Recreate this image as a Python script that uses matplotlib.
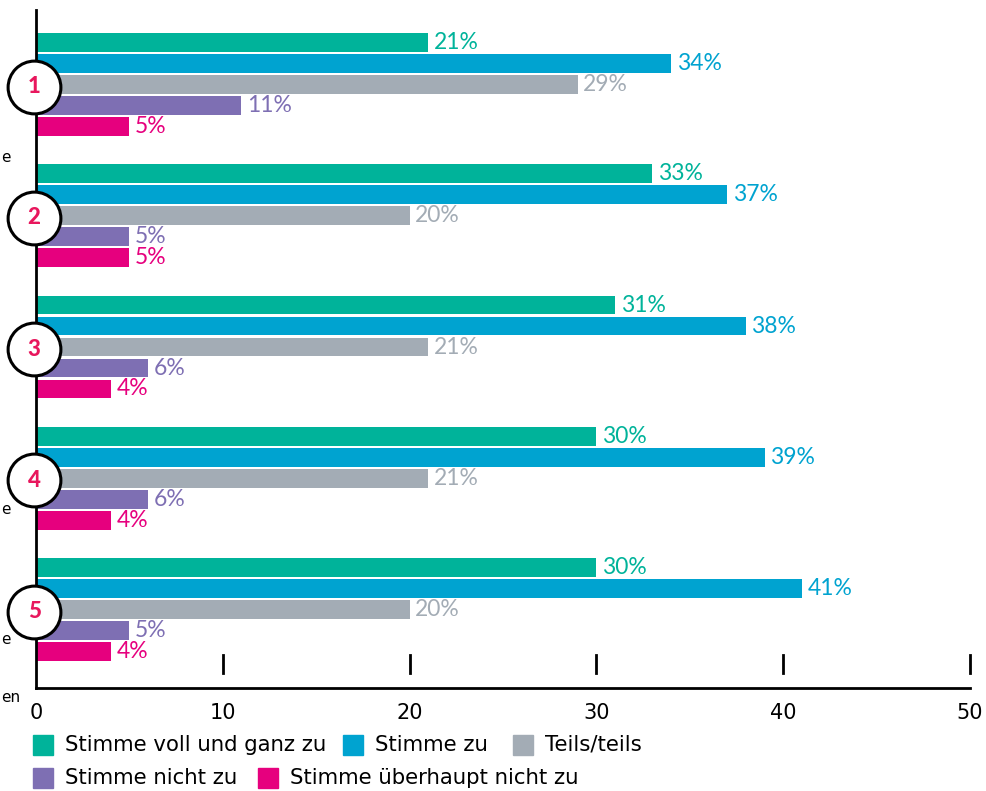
import numpy as np
import matplotlib.pyplot as plt
from matplotlib.patches import Rectangle

# Antwortkategorien und Farben
categories = ['Stimme voll und ganz zu', 'Stimme zu', 'Teils/teils',
              'Stimme nicht zu', 'Stimme überhaupt nicht zu']
colors = ['#00b39a', '#00a3d0', '#a3acb5', '#7e6fb3', '#e6007e']

# Werte je Aussage (in %)
group_labels = ['1', '2', '3', '4', '5']
values = [
    [21, 34, 29, 11, 5],
    [33, 37, 20, 5, 5],
    [31, 38, 21, 6, 4],
    [30, 39, 21, 6, 4],
    [30, 41, 20, 5, 4],
]
xticks = [0, 10, 20, 30, 40, 50]

# abgeschnittene Beschriftungen am linken Rand
side_texts = ['e', 'e', 'e', 'en']
side_ypix = [158, 509, 639, 697]

label_font = 'Lato'
plain_font = 'DejaVu Sans'

fig = plt.figure(figsize=(9.87, 7.91), dpi=100)
ax = fig.add_axes([36 / 987, 1 - 688 / 791, 934 / 987, 678 / 791])

group_step = 6.25
bar_h = 0.9
for g, vals in enumerate(values):
    for k, v in enumerate(vals):
        y = -(g * group_step + k)
        ax.barh(y, v, height=bar_h, color=colors[k], zorder=2)
        ax.text(v + 0.3, y, f'{v}%', va='center', ha='left', fontsize=16.5,
                color=colors[k], family=label_font)
    # Nummernkreis
    yc = -(g * group_step + 2.1)
    ax.plot([-0.1], [yc], marker='o', markersize=38, markerfacecolor='white',
            markeredgecolor='black', markeredgewidth=2.2, clip_on=False, zorder=5)
    ax.text(-0.1, yc, group_labels[g], ha='center', va='center', fontsize=16,
            fontweight='black', color='#e8175d', family=label_font, zorder=6)

ax.set_xlim(0, 50)
ax.set_ylim(-30.74, 1.55)

for s in ['top', 'right']:
    ax.spines[s].set_visible(False)
ax.spines['left'].set_linewidth(2)
ax.spines['bottom'].set_linewidth(2)

ax.set_yticks([])
ax.set_xticks(xticks)
ax.set_xticklabels([str(t) for t in xticks], family=plain_font, fontsize=15)
ax.tick_params(axis='x', length=0, pad=11)

# Teilstriche oberhalb der Achse
for t in xticks[1:]:
    ax.plot([t, t], [0.022, 0.049], color='black', lw=2,
            transform=ax.get_xaxis_transform(), clip_on=False)

for txt, yp in zip(side_texts, side_ypix):
    fig.text(1 / 987, 1 - yp / 791, txt, ha='left', va='center', fontsize=11,
             color='black', family=plain_font)

# Legende (zwei Zeilen)
legend_x = [33, 343, 513, 33, 258]
legend_y = [745, 745, 745, 778, 778]
for c, name, lx, ly in zip(colors, categories, legend_x, legend_y):
    fig.add_artist(Rectangle((lx / 987, 1 - (ly + 10) / 791), 20 / 987, 20 / 791,
                             color=c, transform=fig.transFigure))
    fig.text((lx + 32) / 987, 1 - ly / 791, name, ha='left', va='center',
             fontsize=15.3, family=plain_font, color='black')

fig.savefig('out.png', dpi=100)
